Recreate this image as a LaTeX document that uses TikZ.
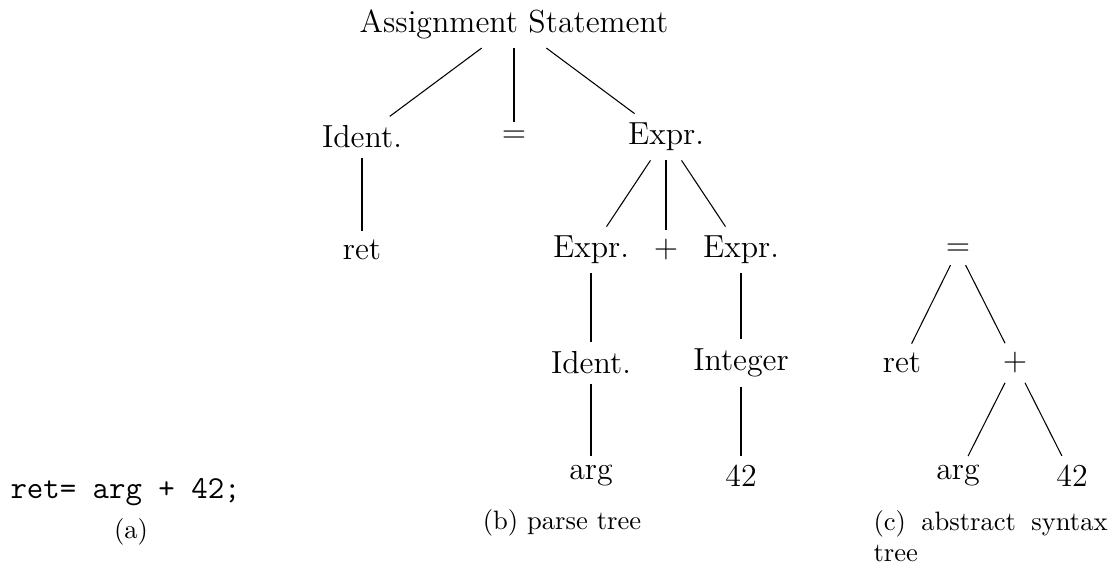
\documentclass[tikz,border=0pt]{standalone}

\begin{document}
\begin{tikzpicture}[x=0.376pt,y=0.376pt,yscale=-1,xscale=1,
        tnode/.style={font=\large},
        capt/.style={inner sep=0pt}]
        \useasboundingbox (0,0) rectangle (1115,567);
        % Text Node
        \node (code) [anchor=base west,inner sep=0pt,font=\large\ttfamily] at (10,498) {ret= arg + 42;};
        % Text Node
        \node (capa) [capt,anchor=base] at (131,538) {(a)};
        % Text Node
        \node (asg) [tnode] at (514,24) {Assignment Statement};
        % Text Node
        \node (id1) [tnode] at (362,137) {Ident.};
        % Text Node
        \node (eq1) [tnode] at (514,137) {$=$};
        % Text Node
        \node (ex1) [tnode] at (666,137) {Expr.};
        % Text Node
        \node (ret1) [tnode] at (362,250) {ret};
        % Text Node
        \node (ex2) [tnode] at (591,250) {Expr.};
        % Text Node
        \node (pl1) [tnode] at (666,250) {$+$};
        % Text Node
        \node (ex3) [tnode] at (741,250) {Expr.};
        % Text Node
        \node (id2) [tnode] at (591,363) {Ident.};
        % Text Node
        \node (int1) [tnode] at (741,363) {Integer};
        % Text Node
        \node (arg1) [tnode] at (591,476) {arg};
        % Text Node
        \node (num1) [tnode] at (741,476) {42};
        % Text Node
        \node (capb) [capt,anchor=base] at (562,529) {(b) parse tree};
        % Text Node
        \node (eq2) [tnode] at (958,250) {$=$};
        % Text Node
        \node (ret2) [tnode] at (902,363) {ret};
        % Text Node
        \node (pl2) [tnode] at (1015,363) {$+$};
        % Text Node
        \node (arg2) [tnode] at (958,476) {arg};
        % Text Node
        \node (num2) [tnode] at (1072,476) {42};
        % Text Node
        \node (capc) [capt,anchor=base west] at (873,530) {\parbox[t]{88pt}{\hyphenpenalty=10000 (c) abstract syntax tree}};
        % Connection
        \draw (asg) -- (id1) ;
        % Connection
        \draw (asg) -- (eq1) ;
        % Connection
        \draw (asg) -- (ex1) ;
        % Connection
        \draw (id1) -- (ret1) ;
        % Connection
        \draw (ex1) -- (ex2) ;
        % Connection
        \draw (ex1) -- (pl1) ;
        % Connection
        \draw (ex1) -- (ex3) ;
        % Connection
        \draw (ex2) -- (id2) ;
        % Connection
        \draw (ex3) -- (int1) ;
        % Connection
        \draw (id2) -- (arg1) ;
        % Connection
        \draw (int1) -- (num1) ;
        % Connection
        \draw (eq2) -- (ret2) ;
        % Connection
        \draw (eq2) -- (pl2) ;
        % Connection
        \draw (pl2) -- (arg2) ;
        % Connection
        \draw (pl2) -- (num2) ;
    \end{tikzpicture}
\end{document}
